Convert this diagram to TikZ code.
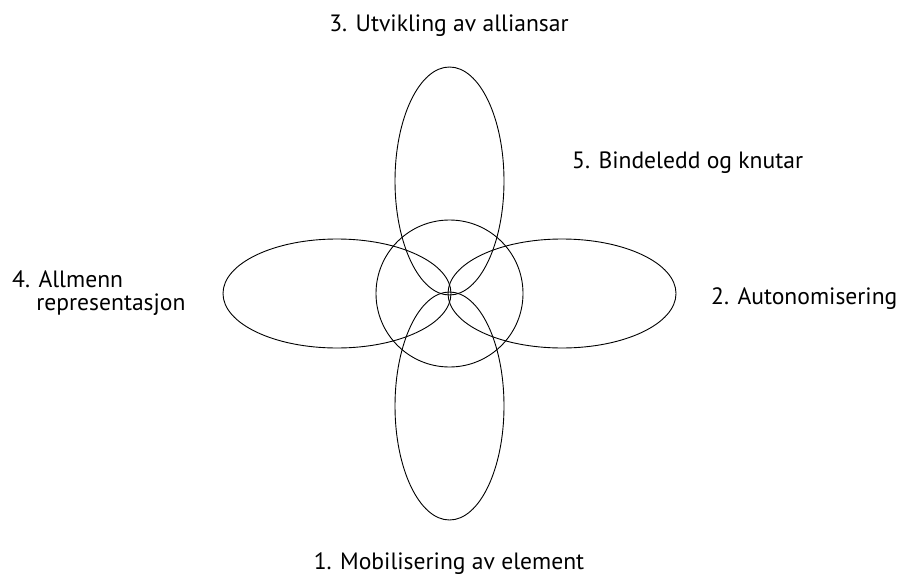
\documentclass[tikz,border=0pt]{standalone}
\usepackage{fontspec}
\setmainfont{PT Sans}
\usetikzlibrary{calc}
\tikzset{
  petal/.style={draw,line width=0.9pt},
  phase/.style={inner sep=0pt,font=\fontsize{23.6}{23}\selectfont}
}
\begin{document}
\begin{tikzpicture}[x=1pt,y=-1pt]
        \useasboundingbox (0,0) rectangle (907,575);
        \coordinate (c) at (449.5,293.5);

        % the four petals and the middle ring
        \draw[petal] ($(c)+(0,-112.5)$) ellipse [x radius=54.5,y radius=114];
        \draw[petal] ($(c)+(0,112.5)$) ellipse [x radius=54.5,y radius=114];
        \draw[petal] ($(c)+(-112.5,0)$) ellipse [x radius=114,y radius=54.5];
        \draw[petal] ($(c)+(112.5,0)$) ellipse [x radius=114,y radius=54.5];
        \draw[petal] (c) circle [radius=73.5];

        \node[phase,anchor=base] (mob) at (449,569) {1. Mobilisering av element};
        \node[phase,anchor=base west] (aut) at (711,304) {2. Autonomisering};
        \node[phase,anchor=base] (all) at (449,32) {3. Utvikling av alliansar};
        \node[phase,anchor=north west,align=left] (rep) at (12,271) {4. Allmenn\\\phantom{4.\ }representasjon};
        \node[phase,anchor=base west] (bin) at (572,168) {5. Bindeledd og knutar};
    \end{tikzpicture}
\end{document}
